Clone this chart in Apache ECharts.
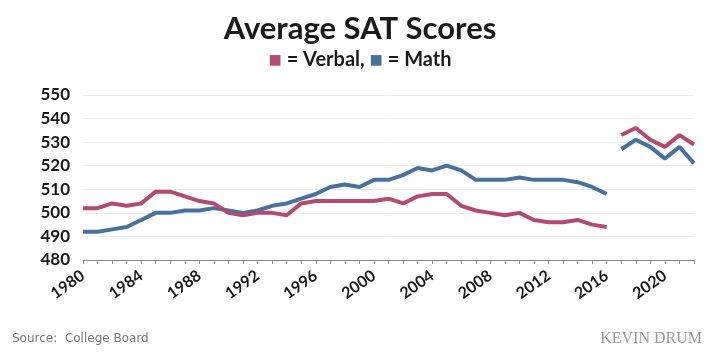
<!DOCTYPE html>
<html>
<head>
<meta charset="utf-8">
<script src="https://cdn.jsdelivr.net/npm/echarts@6/dist/echarts.min.js"></script>
<style>
  html, body { margin: 0; padding: 0; background: #fff; }
  #chart { width: 720px; height: 355px; }
</style>
</head>
<body>
<div id="chart"></div>
<script>
  // years on the axis
  const years = []
  for (let y = 1980; y <= 2022; y++) years.push(String(y))

  // old SAT (1980-2016)
  const verbalOld = [502, 502, 504, 503, 504, 509, 509, 507, 505, 504,
    500, 499, 500, 500, 499, 504, 505, 505, 505, 505,
    505, 506, 504, 507, 508, 508, 503, 501, 500, 499,
    500, 497, 496, 496, 497, 495, 494]
  const mathOld = [492, 492, 493, 494, 497, 500, 500, 501, 501, 502,
    501, 500, 501, 503, 504, 506, 508, 511, 512, 511,
    514, 514, 516, 519, 518, 520, 518, 514, 514, 514,
    515, 514, 514, 514, 513, 511, 508]
  // new SAT (2017-2022)
  const verbalNew = [533, 536, 531, 528, 533, 529]
  const mathNew = [527, 531, 528, 523, 528, 521]

  const verbalColor = '#b34a6f'
  const mathColor = '#48719b'

  function padOld(arr) {
    return arr.concat(new Array(years.length - arr.length).fill(null))
  }
  function padNew(arr) {
    return new Array(years.length - arr.length).fill(null).concat(arr)
  }

  const lineSeries = (name, data, color) => ({
    name: name,
    type: 'line',
    data: data,
    symbol: 'none',
    connectNulls: false,
    lineStyle: { color: color, width: 4 },
    z: name.indexOf('Math') >= 0 ? 2 : 3,
  })

  let chart = echarts.init(document.getElementById('chart'))
  chart.setOption({
    animation: false,
    title: {
      text: 'Average SAT Scores',
      left: 'center',
      top: 8,
      textStyle: { fontFamily: 'Lato', fontWeight: 'bold', fontSize: 31, color: '#1a1a1a' },
      subtext: '{v|■} = Verbal, {m|■} = Math',
      itemGap: 5,
      subtextStyle: {
        fontFamily: 'Lato', fontWeight: 'bold', fontSize: 20, color: '#1a1a1a',
        rich: {
          v: { color: verbalColor, fontSize: 22 },
          m: { color: mathColor, fontSize: 22 },
        },
      },
    },
    grid: { left: 83, right: 26, top: 95, bottom: 95 },
    xAxis: {
      type: 'category',
      data: years,
      boundaryGap: false,
      axisLine: { lineStyle: { color: '#888', width: 1 } },
      axisTick: { show: true, interval: 0, length: 4, lineStyle: { color: '#888' } },
      axisLabel: {
        interval: 3,
        rotate: 35,
        margin: 14,
        fontFamily: 'Lato', fontWeight: 'bold', fontSize: 16, color: '#1a1a1a',
      },
      splitLine: { show: false },
    },
    yAxis: {
      type: 'value',
      min: 480,
      max: 550,
      interval: 10,
      axisLine: { show: false },
      axisTick: { show: false },
      axisLabel: { margin: 13, fontFamily: 'Lato', fontWeight: 'bold', fontSize: 17, color: '#1a1a1a' },
      splitLine: { lineStyle: { color: '#ececec', width: 1 } },
    },
    series: [
      lineSeries('Math', padOld(mathOld), mathColor),
      lineSeries('Verbal', padOld(verbalOld), verbalColor),
      lineSeries('Math new', padNew(mathNew), mathColor),
      lineSeries('Verbal new', padNew(verbalNew), verbalColor),
    ],
    graphic: [
      {
        type: 'text', left: 12, top: 333,
        style: { text: 'Source:  College Board', fontFamily: 'DejaVu Sans', fontSize: 12, fill: '#777' },
      },
      {
        type: 'text', right: 18, top: 331,
        style: { text: 'KEVIN DRUM', fontFamily: 'Liberation Serif', fontSize: 16, fill: '#999' },
      },
    ],
  })
</script>
</body>
</html>
